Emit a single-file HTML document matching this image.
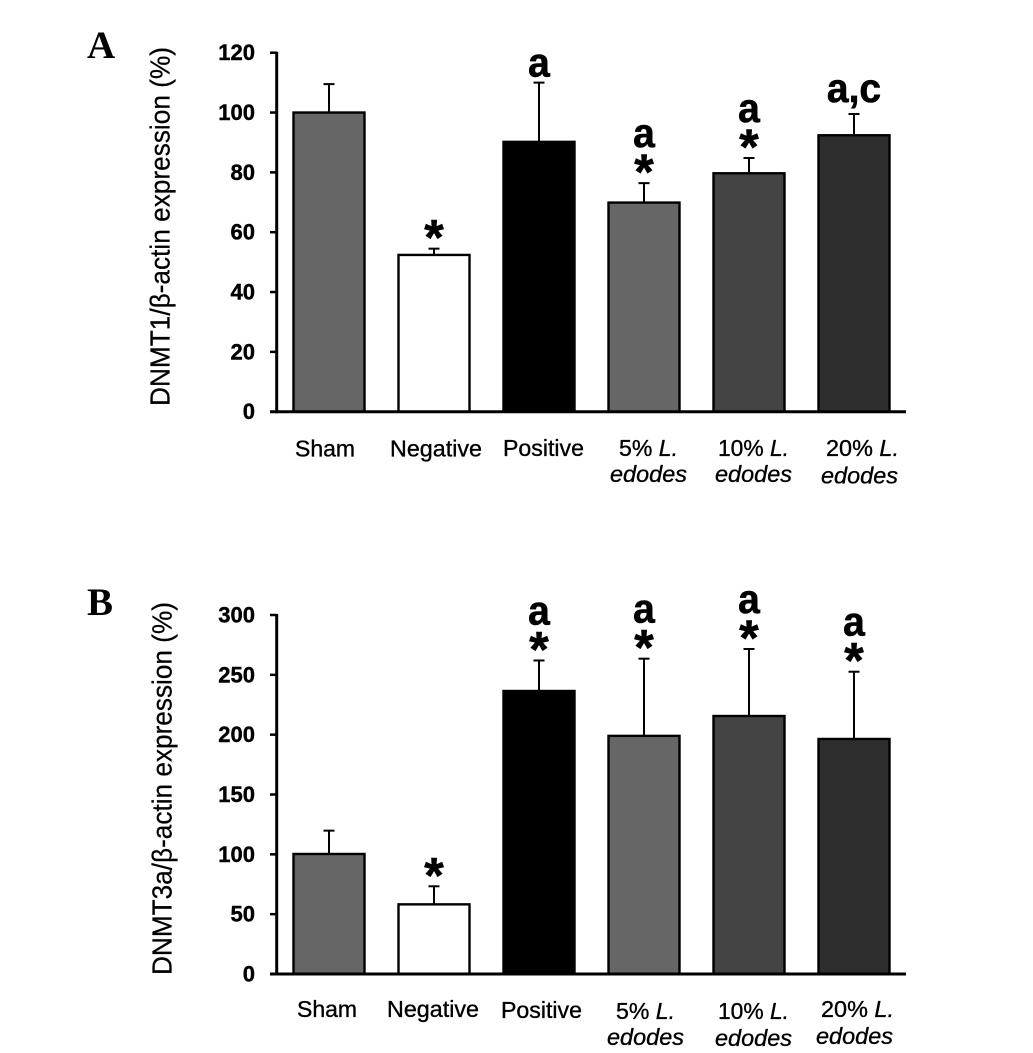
<!DOCTYPE html>
<html>
<head>
<meta charset="utf-8">
<title>DNMT1 and DNMT3a expression</title>
<style>
html,body{margin:0;padding:0;background:#fff;width:1033px;height:1053px;overflow:hidden}
svg{display:block}
text{font-family:"Liberation Sans",sans-serif;fill:#000}
.cat{font-size:23px;stroke:#000;stroke-width:.35px}
.ital{font-style:italic}
.panel{font-family:"Liberation Serif",serif;font-weight:bold;font-size:39px}
.tick{font-size:22px;font-weight:bold;text-anchor:end;stroke:#000;stroke-width:.4px}
.ytitle{font-size:27.5px;stroke:#000;stroke-width:.25px}
.note{font-weight:bold;text-anchor:middle;stroke:#000;stroke-width:.6px}
</style>
</head>
<body>
<svg id="chart" xmlns="http://www.w3.org/2000/svg" width="1033" height="1053" viewBox="0 0 1033 1053">
  <rect x="0" y="0" width="1033" height="1053" fill="#fff"/>

  <text class="panel" x="87" y="58">A</text>
  <text class="panel" x="87" y="615">B</text>

  <text class="ytitle" transform="translate(169.5 406) rotate(-90)" textLength="359" lengthAdjust="spacingAndGlyphs">DNMT1/β-actin expression (%)</text>
  <text class="ytitle" transform="translate(171.5 975) rotate(-90)" textLength="373" lengthAdjust="spacingAndGlyphs">DNMT3a/β-actin expression (%)</text>

  <g>
    <text class="cat" x="295" y="456.5" textLength="60" lengthAdjust="spacingAndGlyphs">Sham</text>
    <text class="cat" x="390" y="456.5" textLength="92" lengthAdjust="spacingAndGlyphs">Negative</text>
    <text class="cat" x="503" y="456" textLength="81" lengthAdjust="spacingAndGlyphs">Positive</text>
    <text class="cat" x="619" y="456" textLength="59" lengthAdjust="spacingAndGlyphs">5% <tspan class="ital">L.</tspan></text>
    <text class="cat ital" x="610" y="482" textLength="77" lengthAdjust="spacingAndGlyphs">edodes</text>
    <text class="cat" x="718" y="456" textLength="71" lengthAdjust="spacingAndGlyphs">10% <tspan class="ital">L.</tspan></text>
    <text class="cat ital" x="715" y="482" textLength="77" lengthAdjust="spacingAndGlyphs">edodes</text>
    <text class="cat" x="826" y="456" textLength="73" lengthAdjust="spacingAndGlyphs">20% <tspan class="ital">L.</tspan></text>
    <text class="cat ital" x="821" y="483.5" textLength="77" lengthAdjust="spacingAndGlyphs">edodes</text>
  </g>
  <g>
    <text class="cat" x="297" y="1017" textLength="60" lengthAdjust="spacingAndGlyphs">Sham</text>
    <text class="cat" x="387" y="1017" textLength="92" lengthAdjust="spacingAndGlyphs">Negative</text>
    <text class="cat" x="501" y="1018" textLength="81" lengthAdjust="spacingAndGlyphs">Positive</text>
    <text class="cat" x="616" y="1019" textLength="59" lengthAdjust="spacingAndGlyphs">5% <tspan class="ital">L.</tspan></text>
    <text class="cat ital" x="607" y="1045" textLength="77" lengthAdjust="spacingAndGlyphs">edodes</text>
    <text class="cat" x="718" y="1019" textLength="71" lengthAdjust="spacingAndGlyphs">10% <tspan class="ital">L.</tspan></text>
    <text class="cat ital" x="715" y="1046" textLength="77" lengthAdjust="spacingAndGlyphs">edodes</text>
    <text class="cat" x="821" y="1017" textLength="73" lengthAdjust="spacingAndGlyphs">20% <tspan class="ital">L.</tspan></text>
    <text class="cat ital" x="816" y="1044" textLength="77" lengthAdjust="spacingAndGlyphs">edodes</text>
  </g>
</svg>
<script>
const categories = ['Sham', 'Negative', 'Positive', '5% L. edodes', '10% L. edodes', '20% L. edodes'];
const barFills = ['#666666', '#ffffff', '#000000', '#666666', '#444444', '#2e2e2e'];

const dnmt1Values = [100, 52.4, 90.2, 69.9, 79.7, 92.4];
const dnmt1Errors = [9.5, 2.1, 19.8, 6.5, 5.1, 7.1];
const dnmt1Ticks = [0, 20, 40, 60, 80, 100, 120];
const dnmt1Stars = [false, true, false, true, true, false];
const dnmt1Letters = ['', '', 'a', 'a', 'a', 'a,c'];

const dnmt3aValues = [100.3, 58.2, 236.5, 199, 215.6, 196.4];
const dnmt3aErrors = [19.5, 15.1, 25.5, 64.5, 56, 56.2];
const dnmt3aTicks = [0, 50, 100, 150, 200, 250, 300];
const dnmt3aStars = [false, true, true, true, true, true];
const dnmt3aLetters = ['', '', 'a', 'a', 'a', 'a'];

const svg = document.getElementById('chart');
const NS = 'http://www.w3.org/2000/svg';

function make(tag, attrs, parent) {
  const el = document.createElementNS(NS, tag);
  for (const k in attrs) el.setAttribute(k, attrs[k]);
  parent.appendChild(el);
  return el;
}

function drawPanel(suffix, values, errors, ticks, stars, letters, baseY) {
  const axisX = 276.7;
  const axisEnd = 906;
  const plotHeight = 359;
  const maxTick = ticks[ticks.length - 1];
  const yScale = v => baseY - (v / maxTick) * plotHeight;
  const xScale = i => 329 + i * 105;
  const barWidth = 71;

  const group = make('g', {}, svg);
  
  

  categories.forEach((name, i) => {
    const cx = xScale(i);
    const top = yScale(values[i]);
    const errTop = yScale(values[i] + errors[i]);

    const stem = make('line', {x1: cx, x2: cx, y1: top + 2, y2: errTop, stroke: '#000', 'stroke-width': 2}, group);
    
    

    const cap = make('line', {x1: cx - 5.5, x2: cx + 5.5, y1: errTop, y2: errTop, stroke: '#000', 'stroke-width': 2}, group);
    
    

    const bar = make('rect', {x: cx - barWidth / 2, y: top, width: barWidth, height: baseY - top, fill: barFills[i], stroke: '#000', 'stroke-width': 2.4}, group);
    
    

    if (stars[i]) {
      const starCenter = errTop - 17;
      const star = make('text', {class: 'note', x: cx, y: starCenter + 23, 'font-size': 50}, group);
      star.textContent = '*';
      
      
    }
    if (letters[i]) {
      const gap = stars[i] ? 36 : (letters[i].length > 1 ? 12 : 6);
      const ly = errTop - gap;
      const letter = make('text', {class: 'note', transform: 'translate(' + cx + ' ' + ly + ') scale(1 1.04)', 'font-size': 39}, group);
      letter.textContent = letters[i];
      
      
    }
  });

  const yAxis = make('line', {x1: axisX, x2: axisX, y1: yScale(maxTick) - 1, y2: baseY + 1.5, stroke: '#000', 'stroke-width': 3}, group);
  
  

  const xAxis = make('line', {x1: 270, x2: axisEnd, y1: baseY, y2: baseY, stroke: '#000', 'stroke-width': 3}, group);
  
  

  ticks.forEach(t => {
    const y = yScale(t);
    const mark = make('line', {x1: 270, x2: axisX, y1: y, y2: y, stroke: '#000', 'stroke-width': 2.5}, group);
    
    

    const label = make('text', {class: 'tick', x: 255, y: y + 7.5}, group);
    label.textContent = t;
    
    
  });
}

drawPanel('a', dnmt1Values, dnmt1Errors, dnmt1Ticks, dnmt1Stars, dnmt1Letters, 411.7);
drawPanel('b', dnmt3aValues, dnmt3aErrors, dnmt3aTicks, dnmt3aStars, dnmt3aLetters, 974);
</script>
</body>
</html>
